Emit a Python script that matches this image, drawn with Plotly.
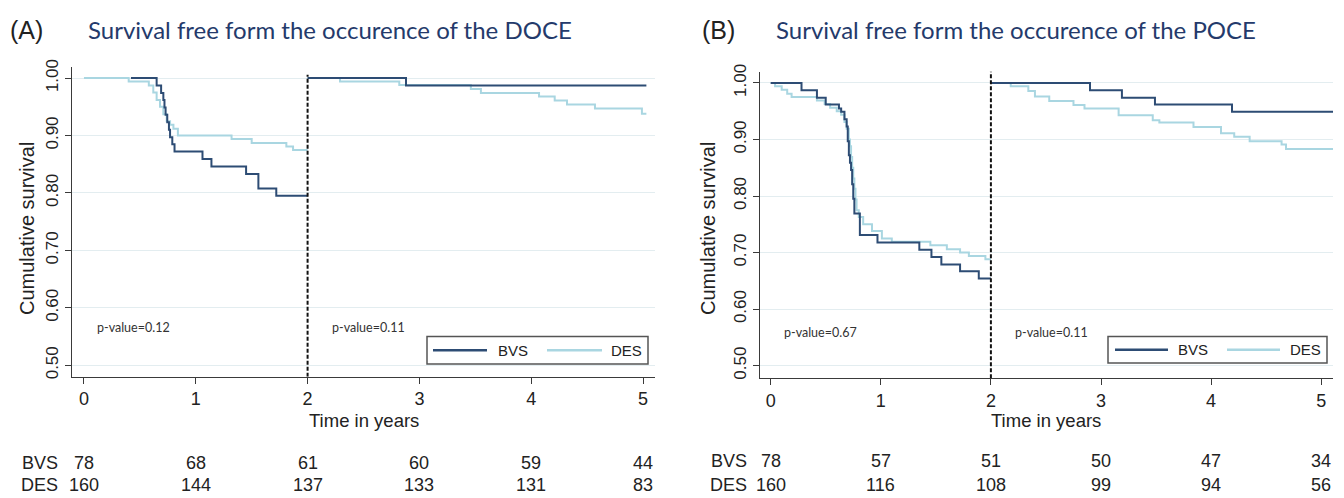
import plotly.graph_objects as go

# ---------------- data ----------------
# Panel A (DOCE), landmark at 2 years
bvs_a1_t = [0.42, 0.65, 0.69, 0.71, 0.72, 0.73, 0.745, 0.76, 0.77, 0.79, 0.81, 1.06, 1.14, 1.45, 1.56, 1.72, 2.00]
bvs_a1_s = [1.000, 0.987, 0.974, 0.962, 0.949, 0.936, 0.923, 0.910, 0.897, 0.885, 0.872, 0.859, 0.846, 0.833, 0.808, 0.795, 0.795]
des_a1_t = [0.00, 0.40, 0.58, 0.62, 0.65, 0.68, 0.71, 0.74, 0.77, 0.80, 0.84, 1.32, 1.50, 1.81, 1.87, 2.00]
des_a1_s = [1.000, 0.994, 0.987, 0.975, 0.962, 0.950, 0.937, 0.925, 0.919, 0.912, 0.900, 0.894, 0.887, 0.881, 0.875, 0.875]
bvs_a2_t = [2.00, 2.88, 5.03]
bvs_a2_s = [1.000, 0.987, 0.987]
des_a2_t = [2.00, 2.29, 2.82, 3.46, 3.55, 4.07, 4.21, 4.32, 4.57, 4.99, 5.03]
des_a2_s = [1.000, 0.994, 0.988, 0.981, 0.974, 0.968, 0.961, 0.954, 0.947, 0.938, 0.938]

# Panel B (POCE)
bvs_b1_t = [0.00, 0.28, 0.42, 0.50, 0.62, 0.64, 0.67, 0.69, 0.70, 0.71, 0.72, 0.73, 0.74, 0.75, 0.76, 0.81, 0.97, 1.35, 1.46, 1.55, 1.72, 1.89, 2.00]
bvs_b1_s = [1.000, 0.987, 0.974, 0.962, 0.955, 0.949, 0.936, 0.923, 0.897, 0.872, 0.859, 0.846, 0.821, 0.795, 0.769, 0.731, 0.718, 0.705, 0.692, 0.679, 0.667, 0.654, 0.654]
des_b1_t = [0.00, 0.04, 0.10, 0.15, 0.19, 0.42, 0.49, 0.54, 0.60, 0.64, 0.67, 0.69, 0.71, 0.72, 0.73, 0.74, 0.75, 0.76, 0.77, 0.78, 0.80, 0.84, 0.92, 1.01, 1.10, 1.45, 1.60, 1.72, 1.80, 1.95, 2.00]
des_b1_s = [1.000, 0.994, 0.988, 0.981, 0.975, 0.969, 0.963, 0.956, 0.950, 0.944, 0.931, 0.919, 0.900, 0.888, 0.869, 0.850, 0.831, 0.813, 0.794, 0.775, 0.763, 0.750, 0.738, 0.725, 0.719, 0.713, 0.706, 0.700, 0.694, 0.688, 0.688]
bvs_b2_t = [2.00, 2.90, 3.19, 3.49, 4.19, 5.12]
bvs_b2_s = [1.000, 0.987, 0.974, 0.962, 0.949, 0.949]
des_b2_t = [2.00, 2.18, 2.34, 2.40, 2.53, 2.75, 2.85, 3.16, 3.47, 3.53, 3.84, 4.09, 4.21, 4.35, 4.64, 4.68, 5.12]
des_b2_s = [1.000, 0.994, 0.986, 0.976, 0.968, 0.961, 0.955, 0.943, 0.934, 0.930, 0.922, 0.911, 0.905, 0.897, 0.891, 0.883, 0.883]

# numbers at risk
risk_times = [0, 1, 2, 3, 4, 5]
risk_a_bvs = [78, 68, 61, 60, 59, 44]
risk_a_des = [160, 144, 137, 133, 131, 83]
risk_b_bvs = [78, 57, 51, 50, 47, 34]
risk_b_des = [160, 116, 108, 99, 94, 56]

x_ticks = [0, 1, 2, 3, 4, 5]
y_ticks = [0.5, 0.6, 0.7, 0.8, 0.9, 1.0]
landmark = 2
p_values_a = ["p-value=0.12", "p-value=0.11"]
p_values_b = ["p-value=0.67", "p-value=0.11"]
title_a = "Survival free form the occurence of the DOCE"
title_b = "Survival free form the occurence of the POCE"

# ---------------- style ----------------
C_BVS = "#2d4c74"
C_DES = "#a9d6e1"
GRID = "#e3edf0"
AXC = "#3a3a3a"
W, H = 1344, 498
SANS = "Liberation Sans, Arial, sans-serif"
CAL = "Lato, Carlito, Calibri, sans-serif"

def px(x):
    return x / W

def py(y):
    return 1 - y / H

fig = go.Figure()

def add_curve(t, s, color, xa, ya):
    fig.add_trace(go.Scatter(x=t, y=s, mode="lines", line=dict(color=color, width=2, shape="hv"),
                             xaxis=xa, yaxis=ya, showlegend=False, hoverinfo="skip"))

for t, s in [(des_a1_t, des_a1_s), (des_a2_t, des_a2_s)]:
    add_curve(t, s, C_DES, "x", "y")
for t, s in [(bvs_a1_t, bvs_a1_s), (bvs_a2_t, bvs_a2_s)]:
    add_curve(t, s, C_BVS, "x", "y")
for t, s in [(des_b1_t, des_b1_s), (des_b2_t, des_b2_s)]:
    add_curve(t, s, C_DES, "x2", "y2")
for t, s in [(bvs_b1_t, bvs_b1_s), (bvs_b2_t, bvs_b2_s)]:
    add_curve(t, s, C_BVS, "x2", "y2")

xcommon = dict(tickvals=x_ticks, ticks="outside", ticklen=6, tickwidth=1.3, tickcolor=AXC,
               showline=True, linecolor=AXC, linewidth=1.3, showgrid=False, zeroline=False,
               tickfont=dict(family=SANS, size=18, color="#222"))
ycommon = dict(tickvals=y_ticks, tickformat=".2f", ticks="outside", ticklen=6, tickwidth=1.3, tickcolor=AXC,
               showline=True, linecolor=AXC, linewidth=1.3, showgrid=True, gridcolor=GRID, gridwidth=1,
               zeroline=False, tickangle=-90, tickfont=dict(family=SANS, size=17, color="#222"))

fig.update_layout(
    width=W, height=H, margin=dict(l=0, r=0, t=0, b=0),
    paper_bgcolor="white", plot_bgcolor="white",
    xaxis=dict(xcommon, domain=[px(72), px(655)], range=[-0.107, 5.107], anchor="y"),
    yaxis=dict(ycommon, domain=[py(377), py(60)], range=[0.4802, 1.0199], anchor="x"),
    xaxis2=dict(xcommon, domain=[px(760), px(1333)], range=[-0.097, 5.107], anchor="y2"),
    yaxis2=dict(ycommon, domain=[py(378.5), py(65)], range=[0.4779, 1.0202], anchor="x2"),
)

shapes = []
annotations = []

# landmark dashed lines
shapes.append(dict(type="line", xref="x", yref="y", x0=landmark, x1=landmark, y0=0.4802, y1=1.006,
                   line=dict(color="#111", width=2, dash="4px,2px")))
shapes.append(dict(type="line", xref="x2", yref="y2", x0=landmark, x1=landmark, y0=0.4779, y1=1.0202,
                   line=dict(color="#111", width=2, dash="4px,2px")))

# panel titles
for lab, lx, tx, txt in [("(A)", 8, 86, title_a), ("(B)", 700, 774, title_b)]:
    annotations.append(dict(text=lab, x=px(lx), y=py(22), xref="paper", yref="paper", xanchor="left",
                            yanchor="middle", showarrow=False, font=dict(family=SANS, size=25, color="#222")))
    annotations.append(dict(text=txt, x=px(tx), y=py(22), xref="paper", yref="paper", xanchor="left",
                            yanchor="middle", showarrow=False, font=dict(family=CAL, size=24, color="#243a6b")))

# axis titles
for cx in [27, 708]:
    annotations.append(dict(text="Cumulative survival", x=px(cx), y=py(226), xref="paper", yref="paper",
                            textangle=-90, showarrow=False, xanchor="center", yanchor="middle",
                            font=dict(family=SANS, size=20, color="#222")))
for cx in [364, 1046]:
    annotations.append(dict(text="Time in years", x=px(cx), y=py(422), xref="paper", yref="paper",
                            showarrow=False, xanchor="center", yanchor="middle",
                            font=dict(family=SANS, size=18.5, color="#222")))

# p-values
for (xr, yr, pvs, yv) in [("x", "y", p_values_a, 0.565), ("x2", "y2", p_values_b, 0.559)]:
    for xv, txt in zip([0.1, 2.2], pvs):
        annotations.append(dict(text=txt, x=xv, y=yv, xref=xr, yref=yr, xanchor="left", yanchor="middle",
                                showarrow=False, font=dict(family=CAL, size=12.5, color="#333")))

# legends (drawn boxes)
def legend(x0, x1, y0, y1, bl, bt, dl, dt):
    ym = (y0 + y1) / 2
    shapes.append(dict(type="rect", xref="paper", yref="paper", x0=px(x0), x1=px(x1), y0=py(y1), y1=py(y0),
                       line=dict(color="#555", width=1.5), fillcolor="white"))
    shapes.append(dict(type="line", xref="paper", yref="paper", x0=px(bl[0]), x1=px(bl[1]), y0=py(ym), y1=py(ym),
                       line=dict(color=C_BVS, width=2.5)))
    shapes.append(dict(type="line", xref="paper", yref="paper", x0=px(dl[0]), x1=px(dl[1]), y0=py(ym), y1=py(ym),
                       line=dict(color=C_DES, width=2.5)))
    annotations.append(dict(text="BVS", x=px(bt), y=py(ym), xref="paper", yref="paper", xanchor="left",
                            yanchor="middle", showarrow=False, font=dict(family=SANS, size=15, color="#222")))
    annotations.append(dict(text="DES", x=px(dt), y=py(ym), xref="paper", yref="paper", xanchor="left",
                            yanchor="middle", showarrow=False, font=dict(family=SANS, size=15, color="#222")))

legend(427, 648, 336, 364, (433, 487), 496, (547, 602), 609)
legend(1108, 1327, 336, 363, (1115, 1168), 1176, (1227, 1280), 1288)

# numbers at risk
for xr, lx, rows in [("x", 60, [(465, "BVS", risk_a_bvs), (487.7, "DES", risk_a_des)]),
                     ("x2", 749, [(463, "BVS", risk_b_bvs), (487.7, "DES", risk_b_des)])]:
    for yy, name, vals in rows:
        annotations.append(dict(text=name, x=px(lx), y=py(yy), xref="paper", yref="paper", xanchor="right",
                                yanchor="middle", showarrow=False, font=dict(family=SANS, size=18, color="#222")))
        for tt, v in zip(risk_times, vals):
            annotations.append(dict(text=str(v), x=tt, y=py(yy), xref=xr, yref="paper", xanchor="center",
                                    yanchor="middle", showarrow=False, font=dict(family=SANS, size=18, color="#222")))

fig.update_layout(shapes=shapes, annotations=annotations)

fig.write_html("out.html", config={"displayModeBar": False},
               post_script="document.body.style.margin='0';document.body.style.overflow='hidden';")
